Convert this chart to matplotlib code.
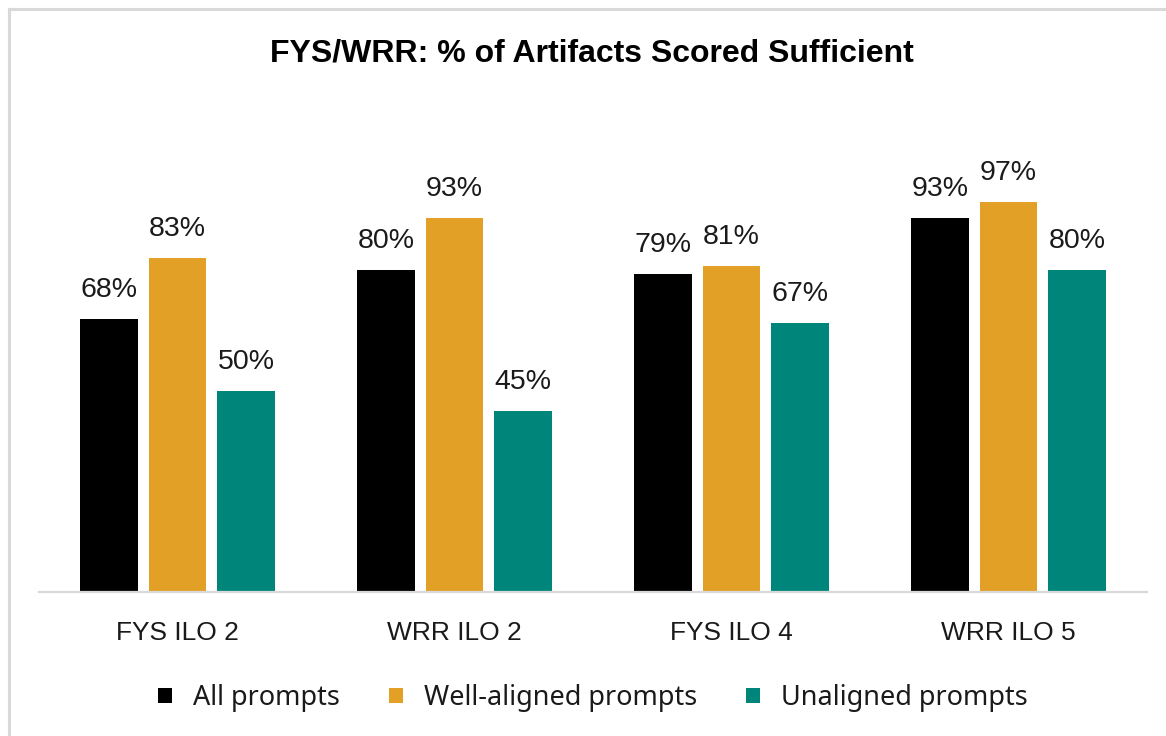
import matplotlib
matplotlib.use("Agg")
import matplotlib.pyplot as plt
from matplotlib.patches import Patch
from matplotlib.lines import Line2D
import numpy as np

categories = ["FYS ILO 2", "WRR ILO 2", "FYS ILO 4", "WRR ILO 5"]
series_names = ["All prompts", "Well-aligned prompts", "Unaligned prompts"]
all_prompts = [68, 80, 79, 93]
well_aligned = [83, 93, 81, 97]
unaligned = [50, 45, 67, 80]
colors = ["#000000", "#E2A027", "#00857A"]
title = "FYS/WRR: % of Artifacts Scored Sufficient"

plt.rcParams['font.family'] = ['Liberation Sans', 'DejaVu Sans']

W, H = 1166, 736
fig = plt.figure(figsize=(W / 100, H / 100), dpi=100)

left_px, right_px, base_px, top_px = 39, 1147, 592, 190
ax = fig.add_axes([left_px / W, 1 - base_px / H, (right_px - left_px) / W, (base_px - top_px) / H])

x = np.arange(len(categories))
bw = 0.209
step = 0.248
data = [all_prompts, well_aligned, unaligned]
for i, (vals, c) in enumerate(zip(data, colors)):
    pos = x + (i - 1) * step
    bars = ax.bar(pos, vals, width=bw, color=c, zorder=2)
    for b, v in zip(bars, vals):
        ax.annotate(f"{v}%", (b.get_x() + b.get_width() / 2, v), xytext=(0, 22),
                    textcoords='offset pixels', ha='center', va='baseline',
                    fontsize=20.5, color='#1a1a1a', annotation_clip=False)

ax.set_xlim(-0.5, len(categories) - 0.5)
ax.set_ylim(0, 100)
ax.set_xticks(x)
ax.set_xticklabels(categories, fontsize=19, color='#1a1a1a')
ax.tick_params(axis='x', length=0, pad=21)
ax.set_yticks([])
for s in ['top', 'right', 'left']:
    ax.spines[s].set_visible(False)
ax.spines['bottom'].set_color('#d9d9d9')
ax.spines['bottom'].set_linewidth(1.6)
ax.set_facecolor('none')

fig.text(592 / W, 1 - 61 / H, title, ha='center', va='baseline',
         fontsize=23, fontweight='bold', color='#000000')

handles = [Patch(facecolor=c, edgecolor='none') for c in colors]
fig.legend(handles, series_names, loc='center', bbox_to_anchor=(593 / W, 1 - 698 / H),
           ncol=3, frameon=False, handlelength=0.52, handleheight=0.52,
           handletextpad=0.78, columnspacing=1.8, labelcolor='#1a1a1a',
           prop={'family': ['Noto Sans', 'DejaVu Sans'], 'size': 19.5})

# outer border (top and left visible)
fig.add_artist(Line2D([9 / W, 1], [1 - 9 / H, 1 - 9 / H], color='#d9d9d9', lw=2.2, transform=fig.transFigure))
fig.add_artist(Line2D([9 / W, 9 / W], [0, 1 - 9 / H], color='#d9d9d9', lw=2.2, transform=fig.transFigure))

fig.savefig("out.png", dpi=100)
